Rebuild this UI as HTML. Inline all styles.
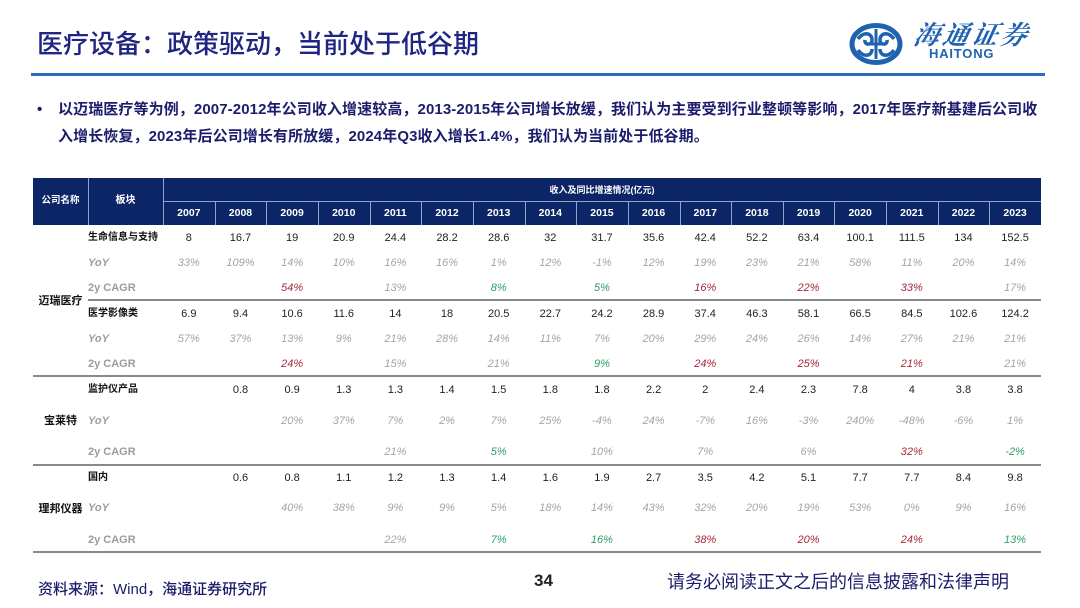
<!DOCTYPE html>
<html>
<head>
<meta charset="utf-8">
<style>
*{margin:0;padding:0;box-sizing:border-box}
body{width:1080px;height:608px;background:#fff;position:relative;overflow:hidden;font-family:"Liberation Sans","Noto Sans CJK SC",sans-serif}
.abs{position:absolute;white-space:nowrap}
.title{left:37px;top:28px;font-size:26px;line-height:32px;color:#1f2580;font-family:"Liberation Sans","Noto Sans CJK SC",sans-serif;font-weight:500}
.hline{position:absolute;left:31px;top:73px;width:1014px;height:3px;background:#2e6db4}
.bullet{left:37px;top:98px;font-size:15px;line-height:24px;color:#1c1c6c;font-weight:bold}
.txt{left:58px;font-size:15px;line-height:24px;color:#1c1c6c;font-weight:bold;letter-spacing:0.1px}
.hdr{position:absolute;left:33px;top:178px;width:1008px;height:47px;background:#0b2566}
.vl{position:absolute;width:1px;background:#8fa6cc}
.hl{position:absolute;height:1px;background:#8fa6cc}
.hy{position:absolute;left:130px;top:23px;width:878px;height:24px;display:flex;color:#fff;font-weight:bold;font-size:10.5px;line-height:24px}
.hy span{flex:1;text-align:center}
.r{position:absolute;left:163px;width:878px;height:20px;line-height:20px;display:flex;font-size:11px;color:#222}
.r span{flex:1;text-align:center}
.r.p span{font-style:italic;color:#a4a4a4}
.r.p span.g{color:#2f9e6a}
.r.p span.d{color:#a52a3c}
.lab{position:absolute;left:88px;height:20px;line-height:20px;font-size:10px;font-weight:bold;color:#111;white-space:nowrap}
.lab.y{font-style:italic;color:#9c9c9c;font-size:11px}
.lab.c{color:#9c9c9c;font-size:11px}
.co{position:absolute;left:33px;width:55px;height:20px;line-height:20px;text-align:center;font-size:11px;font-weight:bold;color:#111}
.div{position:absolute;height:2px;background:#8a8a8a}
</style>
</head>
<body>
<div class="abs title">医疗设备：政策驱动，当前处于低谷期</div>

<!-- logo -->
<svg style="position:absolute;left:848px;top:23px" width="56" height="42" viewBox="0 0 56 42">
  <ellipse cx="28" cy="21" rx="24" ry="18.5" fill="none" stroke="#1f63b0" stroke-width="5"/>
  <path d="M10 16 C16 8, 24 10, 24 17 C24 23, 16 22, 17 17" fill="none" stroke="#1f63b0" stroke-width="3.5"/>
  <path d="M46 16 C40 8, 32 10, 32 17 C32 23, 40 22, 39 17" fill="none" stroke="#1f63b0" stroke-width="3.5"/>
  <path d="M10 27 C16 35, 24 33, 24 26" fill="none" stroke="#1f63b0" stroke-width="3.5"/>
  <path d="M46 27 C40 35, 32 33, 32 26" fill="none" stroke="#1f63b0" stroke-width="3.5"/>
  <path d="M28 6 L28 36 M20 21 L36 21" stroke="#1f63b0" stroke-width="3"/>
</svg>
<div class="abs" style="left:914px;top:23px;font-size:26px;line-height:26px;color:#1f63b0;font-family:'Liberation Serif','Noto Serif CJK SC',serif;font-style:italic;font-weight:bold;transform:skewX(-12deg);letter-spacing:3px">海通证券</div>
<div class="abs" style="left:929px;top:47px;font-size:13px;line-height:14px;color:#1f63b0;font-weight:bold;letter-spacing:0.8px">HAITONG</div>

<div class="hline"></div>

<div class="abs bullet">•</div>
<div class="abs txt" style="top:98px">以迈瑞医疗等为例，2007-2012年公司收入增速较高，2013-2015年公司增长放缓，我们认为主要受到行业整顿等影响，2017年医疗新基建后公司收</div>
<div class="abs txt" style="top:125px">入增长恢复，2023年后公司增长有所放缓，2024年Q3收入增长1.4%，我们认为当前处于低谷期。</div>

<!-- table header -->
<div class="hdr">
  <div class="vl" style="left:55px;top:0;height:47px"></div>
  <div class="vl" style="left:130px;top:0;height:47px"></div>
  <div class="hl" style="left:130px;top:23px;width:878px"></div>
  <div class="vl" style="left:181.6px;top:23px;height:24px"></div>
  <div class="vl" style="left:233.3px;top:23px;height:24px"></div>
  <div class="vl" style="left:284.9px;top:23px;height:24px"></div>
  <div class="vl" style="left:336.6px;top:23px;height:24px"></div>
  <div class="vl" style="left:388.2px;top:23px;height:24px"></div>
  <div class="vl" style="left:439.9px;top:23px;height:24px"></div>
  <div class="vl" style="left:491.5px;top:23px;height:24px"></div>
  <div class="vl" style="left:543.2px;top:23px;height:24px"></div>
  <div class="vl" style="left:594.8px;top:23px;height:24px"></div>
  <div class="vl" style="left:646.5px;top:23px;height:24px"></div>
  <div class="vl" style="left:698.1px;top:23px;height:24px"></div>
  <div class="vl" style="left:749.8px;top:23px;height:24px"></div>
  <div class="vl" style="left:801.4px;top:23px;height:24px"></div>
  <div class="vl" style="left:853.1px;top:23px;height:24px"></div>
  <div class="vl" style="left:904.7px;top:23px;height:24px"></div>
  <div class="vl" style="left:956.4px;top:23px;height:24px"></div>
  <div class="abs" style="left:0;top:13px;width:55px;text-align:center;color:#fff;font-size:9.5px;font-weight:bold;line-height:20px">公司名称</div>
  <div class="abs" style="left:55px;top:13px;width:75px;text-align:center;color:#fff;font-size:10px;font-weight:bold;line-height:20px">板块</div>
  <div class="abs" style="left:130px;top:2px;width:878px;text-align:center;color:#fff;font-size:9px;font-weight:bold;line-height:20px">收入及同比增速情况(亿元)</div>
  <div class="hy"><span>2007</span><span>2008</span><span>2009</span><span>2010</span><span>2011</span><span>2012</span><span>2013</span><span>2014</span><span>2015</span><span>2016</span><span>2017</span><span>2018</span><span>2019</span><span>2020</span><span>2021</span><span>2022</span><span>2023</span></div>
</div>

<!-- company names -->
<div class="co" style="top:291px">迈瑞医疗</div>
<div class="co" style="top:411px">宝莱特</div>
<div class="co" style="top:499px">理邦仪器</div>

<!-- section 1 -->
<div class="lab" style="top:228px">生命信息与支持</div>
<div class="r" style="top:228px"><span>8</span><span>16.7</span><span>19</span><span>20.9</span><span>24.4</span><span>28.2</span><span>28.6</span><span>32</span><span>31.7</span><span>35.6</span><span>42.4</span><span>52.2</span><span>63.4</span><span>100.1</span><span>111.5</span><span>134</span><span>152.5</span></div>
<div class="lab y" style="top:253px">YoY</div>
<div class="r p" style="top:253px"><span>33%</span><span>109%</span><span>14%</span><span>10%</span><span>16%</span><span>16%</span><span>1%</span><span>12%</span><span>-1%</span><span>12%</span><span>19%</span><span>23%</span><span>21%</span><span>58%</span><span>11%</span><span>20%</span><span>14%</span></div>
<div class="lab c" style="top:278px">2y CAGR</div>
<div class="r p" style="top:278px"><span></span><span></span><span class="d">54%</span><span></span><span>13%</span><span></span><span class="g">8%</span><span></span><span class="g">5%</span><span></span><span class="d">16%</span><span></span><span class="d">22%</span><span></span><span class="d">33%</span><span></span><span>17%</span></div>
<div class="div" style="left:88px;top:299px;width:953px"></div>

<!-- section 2 -->
<div class="lab" style="top:304px">医学影像类</div>
<div class="r" style="top:304px"><span>6.9</span><span>9.4</span><span>10.6</span><span>11.6</span><span>14</span><span>18</span><span>20.5</span><span>22.7</span><span>24.2</span><span>28.9</span><span>37.4</span><span>46.3</span><span>58.1</span><span>66.5</span><span>84.5</span><span>102.6</span><span>124.2</span></div>
<div class="lab y" style="top:329px">YoY</div>
<div class="r p" style="top:329px"><span>57%</span><span>37%</span><span>13%</span><span>9%</span><span>21%</span><span>28%</span><span>14%</span><span>11%</span><span>7%</span><span>20%</span><span>29%</span><span>24%</span><span>26%</span><span>14%</span><span>27%</span><span>21%</span><span>21%</span></div>
<div class="lab c" style="top:354px">2y CAGR</div>
<div class="r p" style="top:354px"><span></span><span></span><span class="d">24%</span><span></span><span>15%</span><span></span><span>21%</span><span></span><span class="g">9%</span><span></span><span class="d">24%</span><span></span><span class="d">25%</span><span></span><span class="d">21%</span><span></span><span>21%</span></div>
<div class="div" style="left:33px;top:375px;width:1008px"></div>

<!-- section 3 -->
<div class="lab" style="top:380px">监护仪产品</div>
<div class="r" style="top:380px"><span></span><span>0.8</span><span>0.9</span><span>1.3</span><span>1.3</span><span>1.4</span><span>1.5</span><span>1.8</span><span>1.8</span><span>2.2</span><span>2</span><span>2.4</span><span>2.3</span><span>7.8</span><span>4</span><span>3.8</span><span>3.8</span></div>
<div class="lab y" style="top:411px">YoY</div>
<div class="r p" style="top:411px"><span></span><span></span><span>20%</span><span>37%</span><span>7%</span><span>2%</span><span>7%</span><span>25%</span><span>-4%</span><span>24%</span><span>-7%</span><span>16%</span><span>-3%</span><span>240%</span><span>-48%</span><span>-6%</span><span>1%</span></div>
<div class="lab c" style="top:442px">2y CAGR</div>
<div class="r p" style="top:442px"><span></span><span></span><span></span><span></span><span>21%</span><span></span><span class="g">5%</span><span></span><span>10%</span><span></span><span>7%</span><span></span><span>6%</span><span></span><span class="d">32%</span><span></span><span class="g">-2%</span></div>
<div class="div" style="left:33px;top:464px;width:1008px"></div>

<!-- section 4 -->
<div class="lab" style="top:468px">国内</div>
<div class="r" style="top:468px"><span></span><span>0.6</span><span>0.8</span><span>1.1</span><span>1.2</span><span>1.3</span><span>1.4</span><span>1.6</span><span>1.9</span><span>2.7</span><span>3.5</span><span>4.2</span><span>5.1</span><span>7.7</span><span>7.7</span><span>8.4</span><span>9.8</span></div>
<div class="lab y" style="top:498px">YoY</div>
<div class="r p" style="top:498px"><span></span><span></span><span>40%</span><span>38%</span><span>9%</span><span>9%</span><span>5%</span><span>18%</span><span>14%</span><span>43%</span><span>32%</span><span>20%</span><span>19%</span><span>53%</span><span>0%</span><span>9%</span><span>16%</span></div>
<div class="lab c" style="top:530px">2y CAGR</div>
<div class="r p" style="top:530px"><span></span><span></span><span></span><span></span><span>22%</span><span></span><span class="g">7%</span><span></span><span class="g">16%</span><span></span><span class="d">38%</span><span></span><span class="d">20%</span><span></span><span class="d">24%</span><span></span><span class="g">13%</span></div>
<div class="div" style="left:33px;top:551px;width:1008px"></div>

<!-- footer -->
<div class="abs" style="left:38px;top:580px;font-size:15px;line-height:20px;color:#1c1c6c;font-weight:500">资料来源：Wind，海通证券研究所</div>
<div class="abs" style="left:534px;top:571px;font-size:17px;line-height:20px;color:#222;font-weight:bold">34</div>
<div class="abs" style="left:667px;top:571px;font-size:18px;line-height:22px;color:#1c1c6c">请务必阅读正文之后的信息披露和法律声明</div>
</body>
</html>
